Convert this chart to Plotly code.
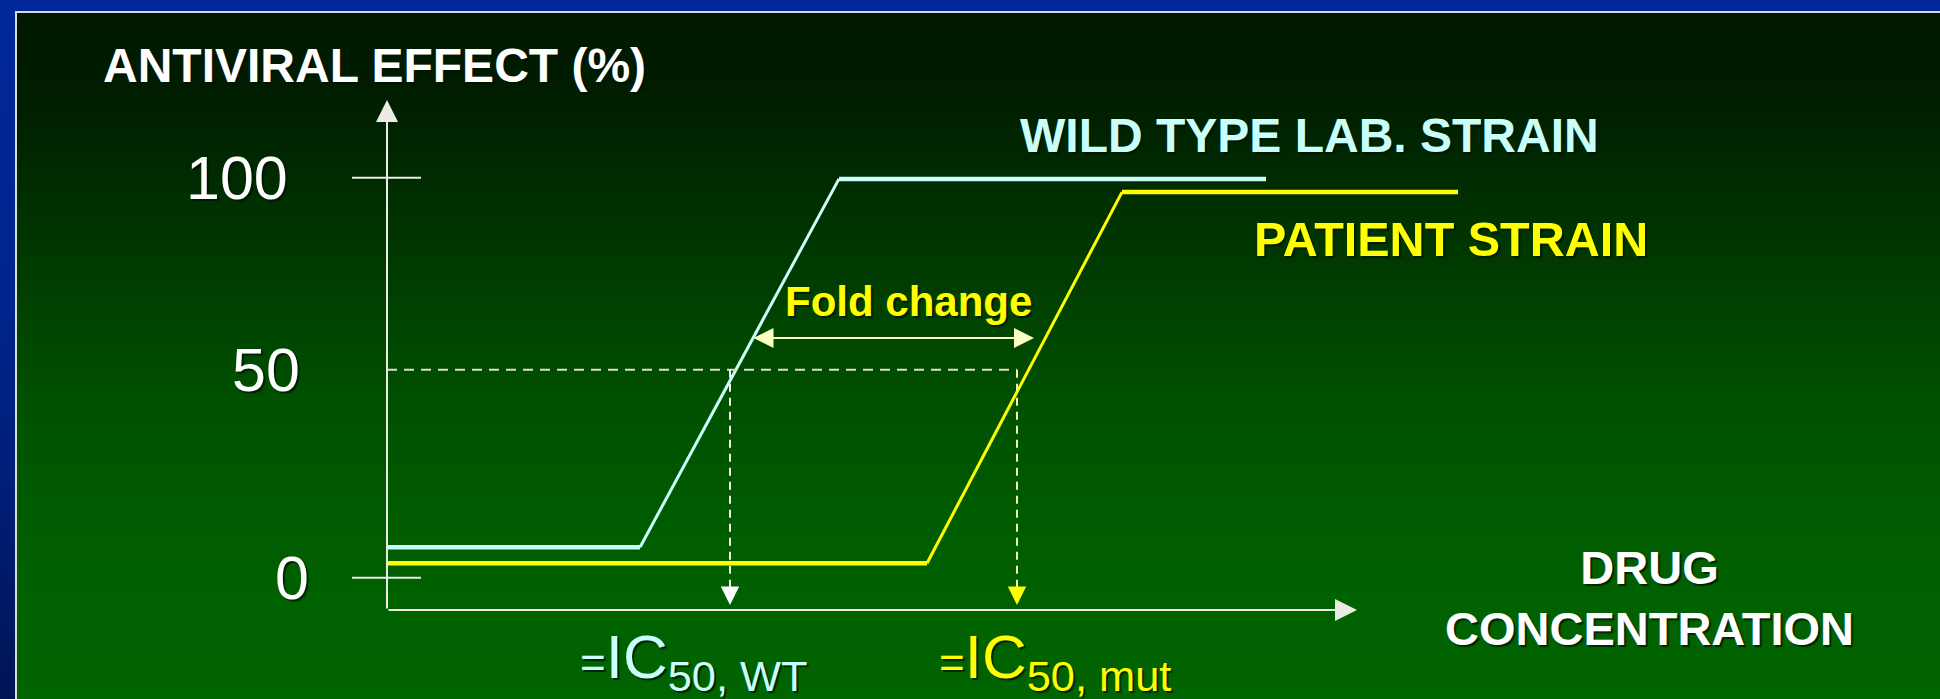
import plotly.graph_objects as go

# ---------------- data ----------------
wt_conc = [0, 25.3, 45.2, 87.9]          # wild type lab strain
wt_effect = [7.6, 7.6, 99.7, 99.7]
pt_conc = [0, 54.0, 73.5, 107.1]         # patient strain
pt_effect = [3.6, 3.6, 96.4, 96.4]
half_level = 52.0                         # drawn 50 % level
ic50_wt = 34.3
ic50_mut = 63.0
y_tick_vals = [0, 50, 100]
y_tick_text = ["0", "50", "100"]
x_axis_end = 97.0
y_axis_end = 119.4
x_axis_level = -8.1

# ---------------- layout helpers ----------------
W, H = 1940, 699
XR = [-38.7, 155.3]
YR = [-30.325, 144.425]


def px_x(p):
    return XR[0] + p * (XR[1] - XR[0]) / W


def px_y(p):
    return YR[1] - p * (YR[1] - YR[0]) / H


WT_COL = "#c8fffa"
PT_COL = "#ffff00"
AX_COL = "#ecece4"
FONT = "Liberation Sans, Arial, sans-serif"
SHADOW = "2px 2px 1px rgba(0,20,0,0.75)"

fig = go.Figure()

# curves: flat parts thicker, ramps thinner
for xs, ys, col in [(wt_conc, wt_effect, WT_COL), (pt_conc, pt_effect, PT_COL)]:
    fig.add_trace(go.Scatter(x=[xs[0], xs[1], None, xs[2], xs[3]],
                             y=[ys[0], ys[1], None, ys[2], ys[3]],
                             mode="lines", line=dict(color=col, width=4.5),
                             hoverinfo="skip", showlegend=False))
    fig.add_trace(go.Scatter(x=[xs[1], xs[2]], y=[ys[1], ys[2]],
                             mode="lines", line=dict(color=col, width=3),
                             hoverinfo="skip", showlegend=False))

# dashed 50 % guide lines
dash = "10px,7px"
tip_level = x_axis_level + 1.3
fig.add_trace(go.Scatter(x=[0, ic50_mut], y=[half_level, half_level], mode="lines",
                         line=dict(color="#dcdcd0", width=2, dash=dash),
                         hoverinfo="skip", showlegend=False))
fig.add_trace(go.Scatter(x=[ic50_wt, ic50_wt], y=[half_level, tip_level + 3], mode="lines",
                         line=dict(color="#f0f0e8", width=2, dash="8px,6px"),
                         hoverinfo="skip", showlegend=False))
fig.add_trace(go.Scatter(x=[ic50_mut, ic50_mut], y=[half_level, tip_level + 3], mode="lines",
                         line=dict(color="#f4f4a8", width=2, dash="8px,6px"),
                         hoverinfo="skip", showlegend=False))

# tick marks at 0 and 100
for v in (0, 100):
    fig.add_trace(go.Scatter(x=[-3.5, 3.4], y=[v, v], mode="lines",
                             line=dict(color=AX_COL, width=2),
                             hoverinfo="skip", showlegend=False))

ann = []
# axes with arrow heads
ann.append(dict(x=x_axis_end, y=x_axis_level, ax=0, ay=x_axis_level, xref="x", yref="y",
                axref="x", ayref="y", showarrow=True, arrowhead=2, arrowsize=2.2,
                arrowwidth=2, arrowcolor=AX_COL, text=""))
ann.append(dict(x=0, y=y_axis_end, ax=0, ay=x_axis_level, xref="x", yref="y",
                axref="x", ayref="y", showarrow=True, arrowhead=2, arrowsize=2.2,
                arrowwidth=2, arrowcolor=AX_COL, text=""))
# arrow heads of the IC50 drop lines
ann.append(dict(x=ic50_wt, y=tip_level, ax=0, ay=-18, xref="x", yref="y",
                showarrow=True, arrowhead=2, arrowsize=2.3, arrowwidth=1.6,
                arrowcolor="#ffffff", text=""))
ann.append(dict(x=ic50_mut, y=tip_level, ax=0, ay=-18, xref="x", yref="y",
                showarrow=True, arrowhead=2, arrowsize=2.3, arrowwidth=1.6,
                arrowcolor=PT_COL, text=""))
# fold change double arrow
fold_y = px_y(338)
ann.append(dict(x=px_x(1034), y=fold_y, ax=px_x(752), ay=fold_y, xref="x", yref="y",
                axref="x", ayref="y", showarrow=True, arrowhead=2, startarrowhead=2,
                arrowside="end+start", arrowsize=2, startarrowsize=2, arrowwidth=2,
                arrowcolor="#ffffc4", text=""))


def label(text, x, y, size, color, bold=True, xanchor="left", yanchor="middle"):
    ann.append(dict(text=text, x=px_x(x), y=px_y(y), xref="x", yref="y",
                    showarrow=False, xanchor=xanchor, yanchor=yanchor, align="center",
                    font=dict(family=FONT, size=size, color=color, shadow=SHADOW,
                              weight="bold" if bold else "normal")))


label("ANTIVIRAL EFFECT (%)", 101, 65, 48, "#ffffff")
label("WILD TYPE LAB. STRAIN", 1018, 135.5, 48, WT_COL)
label("PATIENT STRAIN", 1252, 239, 48.5, PT_COL)
label("DRUG<br>CONCENTRATION", 1649, 598, 47, "#ffffff", xanchor="center")
label("Fold change", 908, 301, 42, PT_COL, xanchor="center")

# y tick labels
tick_centers = {"0": 292, "50": 266, "100": 237}
for v, t in zip(y_tick_vals, y_tick_text):
    yy = half_level if v == 50 else v
    ann.append(dict(text=t, x=px_x(tick_centers[t]), y=yy, xref="x", yref="y",
                    showarrow=False, xanchor="center", yanchor="middle",
                    font=dict(family=FONT, size=61, color="#ffffff", shadow=SHADOW)))

# IC50 labels
label("<span style='font-size:44px'>=</span>IC<sub>50, WT</sub>", 578, 661, 62, WT_COL, bold=False)
label("<span style='font-size:44px'>=</span>IC<sub>50, mut</sub>", 937, 661, 62, PT_COL, bold=False)

# ---------------- background: blue frame + green gradient ----------------
shapes = []


def lerp_stops(stops, y):
    for (y0, c0), (y1, c1) in zip(stops[:-1], stops[1:]):
        if y0 <= y <= y1:
            t = (y - y0) / (y1 - y0)
            return tuple(round(a + (b - a) * t) for a, b in zip(c0, c1))
    return stops[-1][1]


green_stops = [(12, (0, 24, 0)), (100, (0, 30, 0)), (200, (0, 47, 0)), (300, (0, 64, 0)),
               (400, (0, 80, 0)), (500, (0, 90, 0)), (600, (0, 97, 0)), (699, (0, 100, 0))]
blue_stops = [(0, (0, 40, 152)), (300, (0, 36, 140)), (500, (0, 30, 118)), (699, (0, 20, 85))]

step = 4
y = 12
while y < H:
    c = lerp_stops(green_stops, y + step / 2)
    shapes.append(dict(type="rect", xref="paper", yref="paper", x0=0, x1=1,
                       y0=1 - min(y + step, H) / H, y1=1 - y / H, layer="below",
                       fillcolor="rgb(%d,%d,%d)" % c, line=dict(width=0)))
    y += step
y = 0
while y < H:
    c = lerp_stops(blue_stops, y + step / 2)
    shapes.append(dict(type="rect", xref="paper", yref="paper", x0=0, x1=15 / W,
                       y0=1 - min(y + step, H) / H, y1=1 - y / H, layer="below",
                       fillcolor="rgb(%d,%d,%d)" % c, line=dict(width=0)))
    y += step
shapes.append(dict(type="rect", xref="paper", yref="paper", x0=15 / W, x1=1,
                   y0=1 - 11 / H, y1=1, layer="below",
                   fillcolor="rgb(0,40,152)", line=dict(width=0)))
# thin light frame lines
shapes.append(dict(type="line", xref="paper", yref="paper", x0=16 / W, x1=1,
                   y0=1 - 12 / H, y1=1 - 12 / H, layer="below",
                   line=dict(color="#d8dcd8", width=2)))
shapes.append(dict(type="line", xref="paper", yref="paper", x0=16 / W, x1=16 / W,
                   y0=0, y1=1 - 11 / H, layer="below",
                   line=dict(color="#d8dcd8", width=2)))

fig.update_layout(
    width=W, height=H, margin=dict(l=0, r=0, t=0, b=0, pad=0),
    paper_bgcolor="rgb(0,100,0)", plot_bgcolor="rgba(0,0,0,0)",
    xaxis=dict(range=XR, visible=False, fixedrange=True),
    yaxis=dict(range=YR, visible=False, fixedrange=True),
    annotations=ann, shapes=shapes, showlegend=False,
)

fig.write_html("out.html", config={"displayModeBar": False},
               post_script="document.body.style.margin='0';document.body.style.overflow='hidden';")
